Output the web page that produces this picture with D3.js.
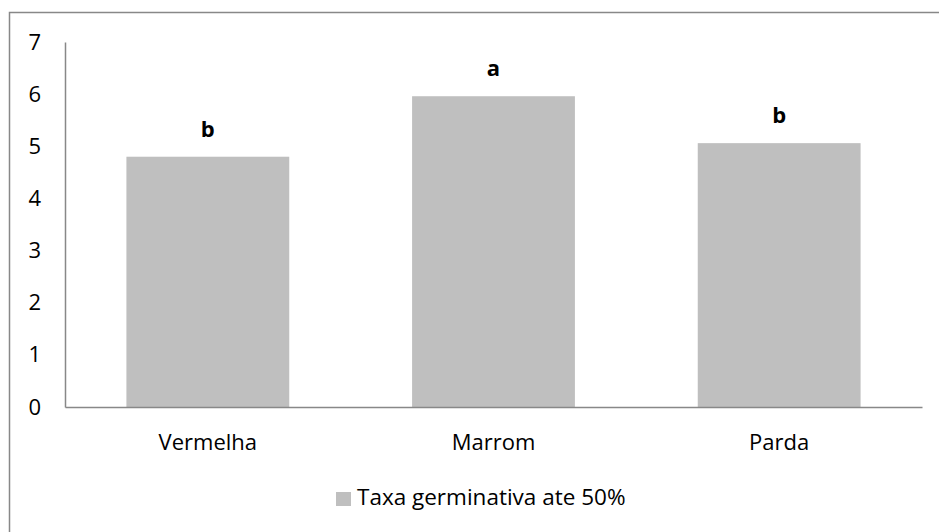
<!DOCTYPE html>
<html>
<head>
<meta charset="utf-8">
<script src="https://cdn.jsdelivr.net/npm/d3@7"></script>
<style>
body { margin: 0; background: #fff; }
text { font-family: "Open Sans", "Noto Sans", sans-serif; fill: #000; }
</style>
</head>
<body>
<svg id="chart"></svg>
<script>
var width = 939;
var height = 532;

var categories = ["Vermelha", "Marrom", "Parda"];
var values = [4.80, 5.96, 5.06];
var letters = ["b", "a", "b"];
var yTicks = [0, 1, 2, 3, 4, 5, 6, 7];
var seriesName = "Taxa germinativa ate 50%";

var plotLeft = 65, plotRight = 922, plotTop = 42, plotBottom = 407;

var svg = d3.select("#chart")
	.attr("width", width)
	.attr("height", height);

// outer frame
svg.append("rect")
	.attr("x", 9.5)
	.attr("y", 12.5)
	.attr("width", 940)
	.attr("height", 530)
	.attr("fill", "none")
	.attr("stroke", "#888")
	.attr("stroke-width", 1.5);

var x = d3.scaleBand()
	.domain(categories)
	.range([plotLeft, plotRight])
	.paddingInner(0.43)
	.paddingOuter(0.215);

var y = d3.scaleLinear()
	.domain([0, 7])
	.range([plotBottom, plotTop]);

var yAxis = d3.axisLeft(y)
	.tickValues(yTicks)
	.tickFormat(d3.format("d"))
	.tickSize(0)
	.tickPadding(24);
var yAxisGroup = svg.append("g")
	.attr("transform", "translate(" + plotLeft + ",0)")
	.call(yAxis);
yAxisGroup.select(".domain").attr("stroke", "#888").attr("stroke-width", 1.5);
yAxisGroup.selectAll("text")
	.style("font-size", "22px")
	.style("font-family", "'Open Sans', sans-serif")
	.attr("fill", "#000");

svg.selectAll("rect.bar")
	.data(values)
	.enter()
	.append("rect")
	.attr("class", "bar")
	.attr("x", function (d, i) { return x(categories[i]); })
	.attr("width", x.bandwidth())
	.attr("y", function (d) { return y(d); })
	.attr("height", function (d) { return plotBottom - y(d); })
	.attr("fill", "#bfbfbf");

var xAxis = d3.axisBottom(x).tickSize(0).tickPadding(27);
var xAxisGroup = svg.append("g")
	.attr("transform", "translate(0," + plotBottom + ")")
	.call(xAxis);
xAxisGroup.select(".domain").attr("stroke", "#888").attr("stroke-width", 1.5);
xAxisGroup.selectAll("text")
	.style("font-size", "22px")
	.style("font-family", "'Open Sans', sans-serif")
	.attr("fill", "#000");

svg.selectAll("text.letter")
	.data(values)
	.enter()
	.append("text")
	.attr("class", "letter")
	.attr("x", function (d, i) { return x(categories[i]) + x.bandwidth() / 2; })
	.attr("y", function (d) { return y(d) - 20; })
	.attr("text-anchor", "middle")
	.style("font-size", "22px")
	.style("font-weight", "bold")
	.text(function (d, i) { return letters[i]; });

// legend
var legend = svg.append("g").attr("transform", "translate(336,492)");
legend.append("rect")
	.attr("width", 15)
	.attr("height", 14)
	.attr("fill", "#bfbfbf");
legend.append("text")
	.attr("x", 21)
	.attr("y", 13)
	.style("font-size", "22.5px")
	.text(seriesName);
</script>
</body>
</html>
